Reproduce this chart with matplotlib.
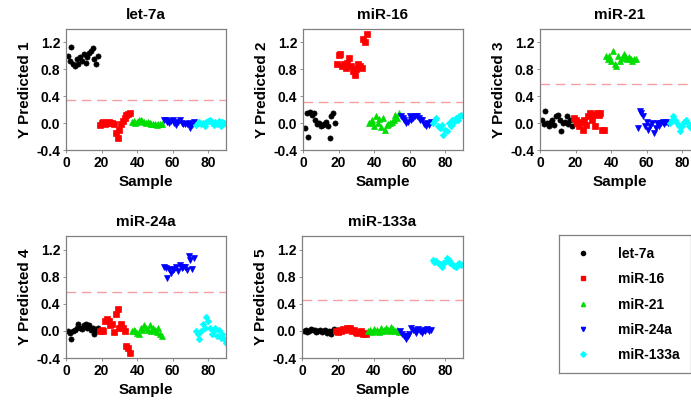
import matplotlib
matplotlib.use("Agg")
import matplotlib.pyplot as plt
from matplotlib.lines import Line2D
import numpy as np

plt.rcParams['font.family'] = ['Liberation Sans', 'DejaVu Sans']

groups = ["let-7a", "miR-16", "miR-21", "miR-24a", "miR-133a"]
colors = ["black", "red", "#00dd00", "blue", "cyan"]
markers = ["o", "s", "^", "v", "D"]
samples = list(range(1, 91))

y1 = [1.00, 0.92, 1.13, 0.88, 0.85, 0.95, 0.88, 0.98, 0.92, 1.03, 0.90, 0.98, 1.05, 1.08, 1.12, 0.95, 0.88, 1.00,
      -0.03, 0.00, 0.02, -0.01, 0.00, 0.01, 0.00, 0.00, -0.01, -0.15, -0.22, -0.10, -0.02, 0.03, 0.08, 0.12, 0.14, 0.15,
      0.02, 0.03, 0.00, 0.02, 0.04, 0.05, 0.03, 0.02, 0.00, 0.01, 0.00, -0.02, -0.01, -0.02, -0.03, -0.02, -0.02, -0.01,
      0.05, 0.04, 0.02, 0.00, 0.03, 0.05, 0.00, -0.03, 0.02, 0.04, 0.00, -0.01, -0.02, -0.02, 0.00, -0.07, -0.03, 0.02,
      -0.03, 0.00, 0.02, -0.02, 0.00, -0.04, 0.01, 0.03, 0.04, 0.00, -0.03, 0.02, -0.02, 0.03, -0.05, 0.01, 0.00, -0.02]
y2 = [-0.08, 0.15, -0.20, 0.17, 0.12, 0.15, 0.05, -0.02, 0.00, -0.05, -0.03, -0.02, 0.02, -0.05, -0.22, 0.10, 0.15, 0.00,
      0.88, 1.02, 1.03, 0.85, 0.88, 0.82, 0.90, 0.97, 0.85, 0.78, 0.72, 0.80, 0.88, 0.85, 0.82, 1.25, 1.20, 1.33,
      0.00, 0.02, 0.05, -0.05, 0.10, 0.00, 0.06, -0.06, 0.08, -0.10, -0.03, -0.02, 0.00, 0.02, 0.05, 0.12, 0.08, 0.15,
      0.10, 0.08, 0.05, 0.00, 0.02, 0.10, 0.05, 0.08, 0.10, 0.10, 0.08, 0.05, 0.05, -0.02, -0.05, 0.00, -0.03, 0.02,
      0.00, 0.05, 0.08, -0.05, -0.08, -0.03, -0.18, -0.10, -0.12, 0.00, -0.05, 0.05, 0.02, 0.08, 0.05, 0.10, 0.12, 0.10]
y3 = [0.05, -0.02, 0.18, 0.00, -0.05, 0.02, 0.05, -0.03, 0.10, 0.12, 0.05, -0.12, 0.00, 0.02, 0.10, -0.02, 0.05, -0.05,
      0.08, 0.05, 0.00, -0.05, 0.02, -0.10, 0.05, -0.03, 0.10, 0.15, 0.05, 0.12, -0.05, 0.15, 0.12, 0.15, -0.10, -0.10,
      1.00, 0.95, 1.00, 0.92, 1.07, 0.88, 0.85, 1.00, 0.92, 0.97, 1.03, 1.00, 0.95, 0.98, 0.95, 0.93, 0.95, 0.95,
      -0.08, 0.18, 0.15, 0.10, -0.05, 0.02, -0.10, -0.05, 0.00, -0.15, -0.08, 0.00, -0.05, 0.00, 0.02, -0.02, 0.02, 0.00,
      0.00, 0.05, 0.10, 0.05, 0.00, -0.05, -0.12, -0.05, 0.02, 0.05, 0.00, -0.05, -0.08, -0.03, 0.02, 0.00, -0.05, -0.02]
y4 = [0.00, -0.03, -0.12, 0.00, 0.02, 0.05, 0.10, 0.05, 0.03, 0.08, 0.10, 0.05, 0.08, 0.02, 0.05, -0.05, 0.02, 0.05,
      0.00, 0.02, 0.00, 0.15, 0.18, 0.15, 0.08, 0.10, -0.02, 0.25, 0.33, 0.05, 0.10, 0.05, 0.00, -0.22, -0.25, -0.33,
      0.00, 0.02, 0.00, -0.03, -0.05, 0.05, 0.02, 0.08, 0.05, 0.02, 0.08, 0.00, 0.05, 0.02, -0.02, 0.05, -0.05, -0.08,
      0.95, 0.93, 0.78, 0.92, 0.85, 0.90, 0.92, 0.95, 0.88, 0.97, 0.93, 0.95, 0.95, 0.90, 1.10, 1.05, 0.92, 1.07,
      0.00, -0.05, -0.12, 0.00, 0.10, 0.05, 0.20, 0.15, 0.05, -0.05, 0.00, 0.05, -0.08, 0.02, -0.10, -0.05, -0.12, -0.18]
y5 = [0.00, 0.02, -0.02, 0.00, 0.03, 0.01, 0.02, -0.01, 0.00, 0.02, -0.02, 0.00, 0.01, -0.03, 0.00, -0.05, 0.00, 0.03,
      0.00, -0.02, 0.02, 0.00, 0.03, 0.02, 0.05, 0.03, 0.05, 0.00, 0.02, -0.02, -0.03, -0.02, 0.00, -0.05, -0.03, -0.04,
      0.00, 0.02, -0.02, 0.03, 0.00, 0.02, -0.01, 0.04, 0.00, 0.02, 0.05, 0.01, 0.00, 0.06, 0.03, 0.00, 0.02, -0.02,
      0.00, -0.05, -0.08, -0.12, -0.08, -0.05, 0.05, 0.02, 0.00, -0.03, 0.03, 0.00, -0.03, 0.02, 0.00, 0.03, 0.00, 0.02,
      1.05, 1.02, 1.03, 1.00, 0.98, 0.95, 1.00, 1.02, 1.08, 1.05, 1.00, 0.98, 0.96, 0.95, 0.98, 1.00, 0.97, 0.98]
series = [y1, y2, y3, y4, y5]
thresholds = [0.35, 0.32, 0.58, 0.58, 0.45]
ylabels = ["Y Predicted 1", "Y Predicted 2", "Y Predicted 3", "Y Predicted 4", "Y Predicted 5"]
xticks = [0, 20, 40, 60, 80]
yticks = [-0.4, 0.0, 0.4, 0.8, 1.2]
group_size = 18

W, H = 691, 409
fig = plt.figure(figsize=(W / 100, H / 100), dpi=100)

# axes boxes in pixels: left, top, width, height
boxes = [(66, 29, 160, 121), (303, 29, 160, 121), (540, 29, 160, 121),
         (66, 236, 160, 122), (302, 236, 161, 122)]

def px(l, t, w, h):
    return [l / W, 1 - (t + h) / H, w / W, h / H]

frame_col = "#808080"
for i, (ys, thr) in enumerate(zip(series, thresholds)):
    ax = fig.add_axes(px(*boxes[i]))
    for g in range(5):
        xs = samples[g * group_size:(g + 1) * group_size]
        yy = ys[g * group_size:(g + 1) * group_size]
        ms = 3.7 if markers[g] != "D" else 3.3
        ax.plot(xs, yy, linestyle="none", marker=markers[g], color=colors[g],
                markersize=ms, markeredgewidth=0.5, markeredgecolor=colors[g])
    ax.axhline(thr, color="#f5a0a0", linewidth=1.0, dashes=(7, 4))
    ax.set_xlim(0, 90)
    ax.set_ylim(-0.4, 1.4)
    ax.set_xticks(xticks)
    ax.set_yticks(yticks)
    ax.set_yticklabels([f"{v:.1f}" for v in yticks])
    ax.tick_params(labelsize=10, length=2, width=0.6, color=frame_col, pad=2)
    for lab in ax.get_xticklabels() + ax.get_yticklabels():
        lab.set_fontweight("bold")
    for sp in ax.spines.values():
        sp.set_color(frame_col)
        sp.set_linewidth(0.9)
    ax.set_title(groups[i], fontsize=11, fontweight="bold", pad=7)
    ax.set_xlabel("Sample", fontsize=11, fontweight="bold", labelpad=4)
    ax.set_ylabel(ylabels[i], fontsize=11, fontweight="bold", labelpad=3)

# legend box
lax = fig.add_axes(px(559, 235, 132, 138))
lax.set_xticks([])
lax.set_yticks([])
for sp in lax.spines.values():
    sp.set_color(frame_col)
    sp.set_linewidth(0.9)
handles = [Line2D([], [], linestyle="none", marker=markers[g], color=colors[g],
                  markersize=3.0 if markers[g] != "D" else 2.8) for g in range(5)]
leg = lax.legend(handles, groups, loc="upper left", bbox_to_anchor=(0.13, 0.915),
                 frameon=False, fontsize=10, labelspacing=0.82, handletextpad=2.0,
                 handlelength=1.0, borderaxespad=0, borderpad=0)
for t in leg.get_texts():
    t.set_fontweight("bold")

fig.savefig("out.png", dpi=100)
